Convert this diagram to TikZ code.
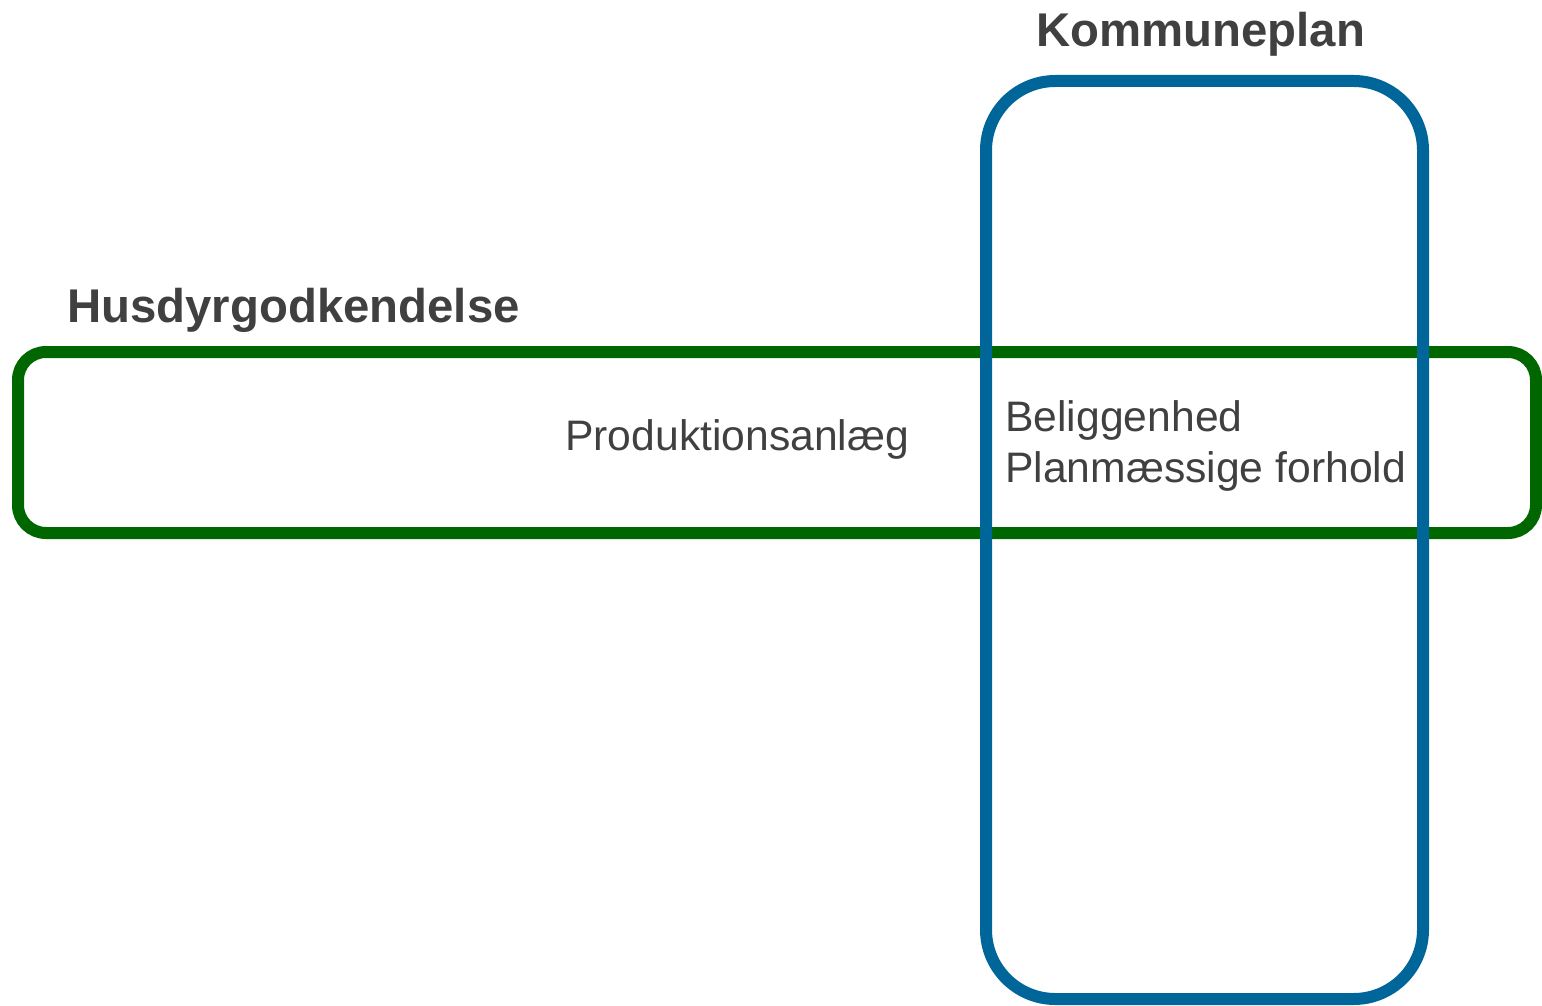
\documentclass[tikz,border=0pt]{standalone}
\usepackage{fontspec}
\setmainfont{Liberation Sans}
\definecolor{kblue}{RGB}{0,102,153}
\definecolor{hgreen}{RGB}{0,102,0}
\definecolor{txt}{RGB}{64,64,64}
\begin{document}
\begin{tikzpicture}[x=0.75pt,y=-0.75pt,
  frame/.style={line width=9pt},
  title/.style={anchor=base west,inner sep=0pt,text=txt,font=\fontsize{35.5}{43}\selectfont\bfseries},
  label/.style={anchor=base west,inner sep=0pt,text=txt,font=\fontsize{32}{38}\selectfont}]
\useasboundingbox (0,0) rectangle (1542,1006);
\draw[frame,hgreen,rounded corners=21pt] (18,352) rectangle (1536,533);
\draw[frame,kblue,rounded corners=52pt] (986,81) rectangle (1423,999);
\node[title] (komm) at (1036,47) {Kommuneplan};
\node[title] (husd) at (67,322) {Husdyrgodkendelse};
\node[label] (prod) at (565,450) {Produktionsanlæg};
\node[label] (bel) at (1005,431) {Beliggenhed};
\node[label] (plan) at (1005,482) {Planmæssige forhold};
\end{tikzpicture}
\end{document}
